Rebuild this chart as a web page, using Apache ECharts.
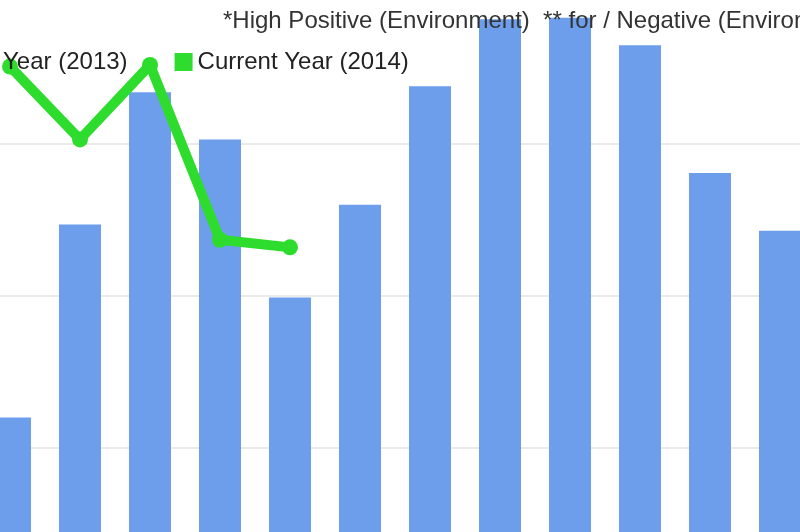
<!DOCTYPE html>
<html lang="en">
<head>
<meta charset="utf-8">
<title>Previous vs Current Year</title>
<style>
  html, body { margin: 0; padding: 0; width: 800px; height: 532px; overflow: hidden; background: #fff; }
  #main { position: absolute; left: -200px; top: -60px; width: 1100px; height: 700px; }
</style>
</head>
<body>
<div id="main"></div>
<script src="https://cdn.jsdelivr.net/npm/echarts@6/dist/echarts.min.js"></script>
<script>
var months = ['Jan', 'Feb', 'Mar', 'Apr', 'May', 'Jun', 'Jul', 'Aug', 'Sep', 'Oct', 'Nov', 'Dec'];
var previousYear = [12.0, 24.7, 33.4, 30.3, 19.9, 26.0, 33.8, 38.2, 38.3, 36.5, 28.1, 24.3];
var currentYear = [35.1, 30.3, 35.2, 23.7, 23.2];
var yTicks = [0, 10, 20, 30, 40];

var chart = echarts.init(document.getElementById('main'));

var option = {
  animation: false,
  title: {
    text: '*High Positive (Environment)  ** for / Negative (Environment)',
    left: 418,
    top: 64,
    textStyle: { fontFamily: 'Liberation Sans', fontSize: 24, fontWeight: 'normal', color: '#333' }
  },
  legend: {
    left: 75,
    top: 105,
    itemGap: 47,
    itemWidth: 18,
    itemHeight: 18,
    icon: 'rect',
    textStyle: { fontFamily: 'Liberation Sans', fontSize: 24, color: '#222' },
    data: ['Previous Year (2013)', 'Current Year (2014)']
  },
  grid: { left: 175, right: 85, top: 52, bottom: 40 },
  xAxis: {
    type: 'category',
    data: months,
    axisLine: { show: false },
    axisTick: { show: false },
    axisLabel: { show: false }
  },
  yAxis: {
    type: 'value',
    min: yTicks[0],
    max: yTicks[yTicks.length - 1],
    interval: 10,
    axisLabel: { show: false },
    splitLine: { lineStyle: { color: '#ebebeb', width: 2 } }
  },
  series: [
    {
      name: 'Previous Year (2013)',
      type: 'bar',
      barWidth: 42,
      itemStyle: { color: '#6d9eeb' },
      data: previousYear
    },
    {
      name: 'Current Year (2014)',
      type: 'line',
      symbol: 'circle',
      symbolSize: 16,
      lineStyle: { width: 10, color: '#2edc2e' },
      itemStyle: { color: '#2edc2e' },
      data: currentYear
    }
  ]
};

chart.setOption(option);
</script>
</body>
</html>
